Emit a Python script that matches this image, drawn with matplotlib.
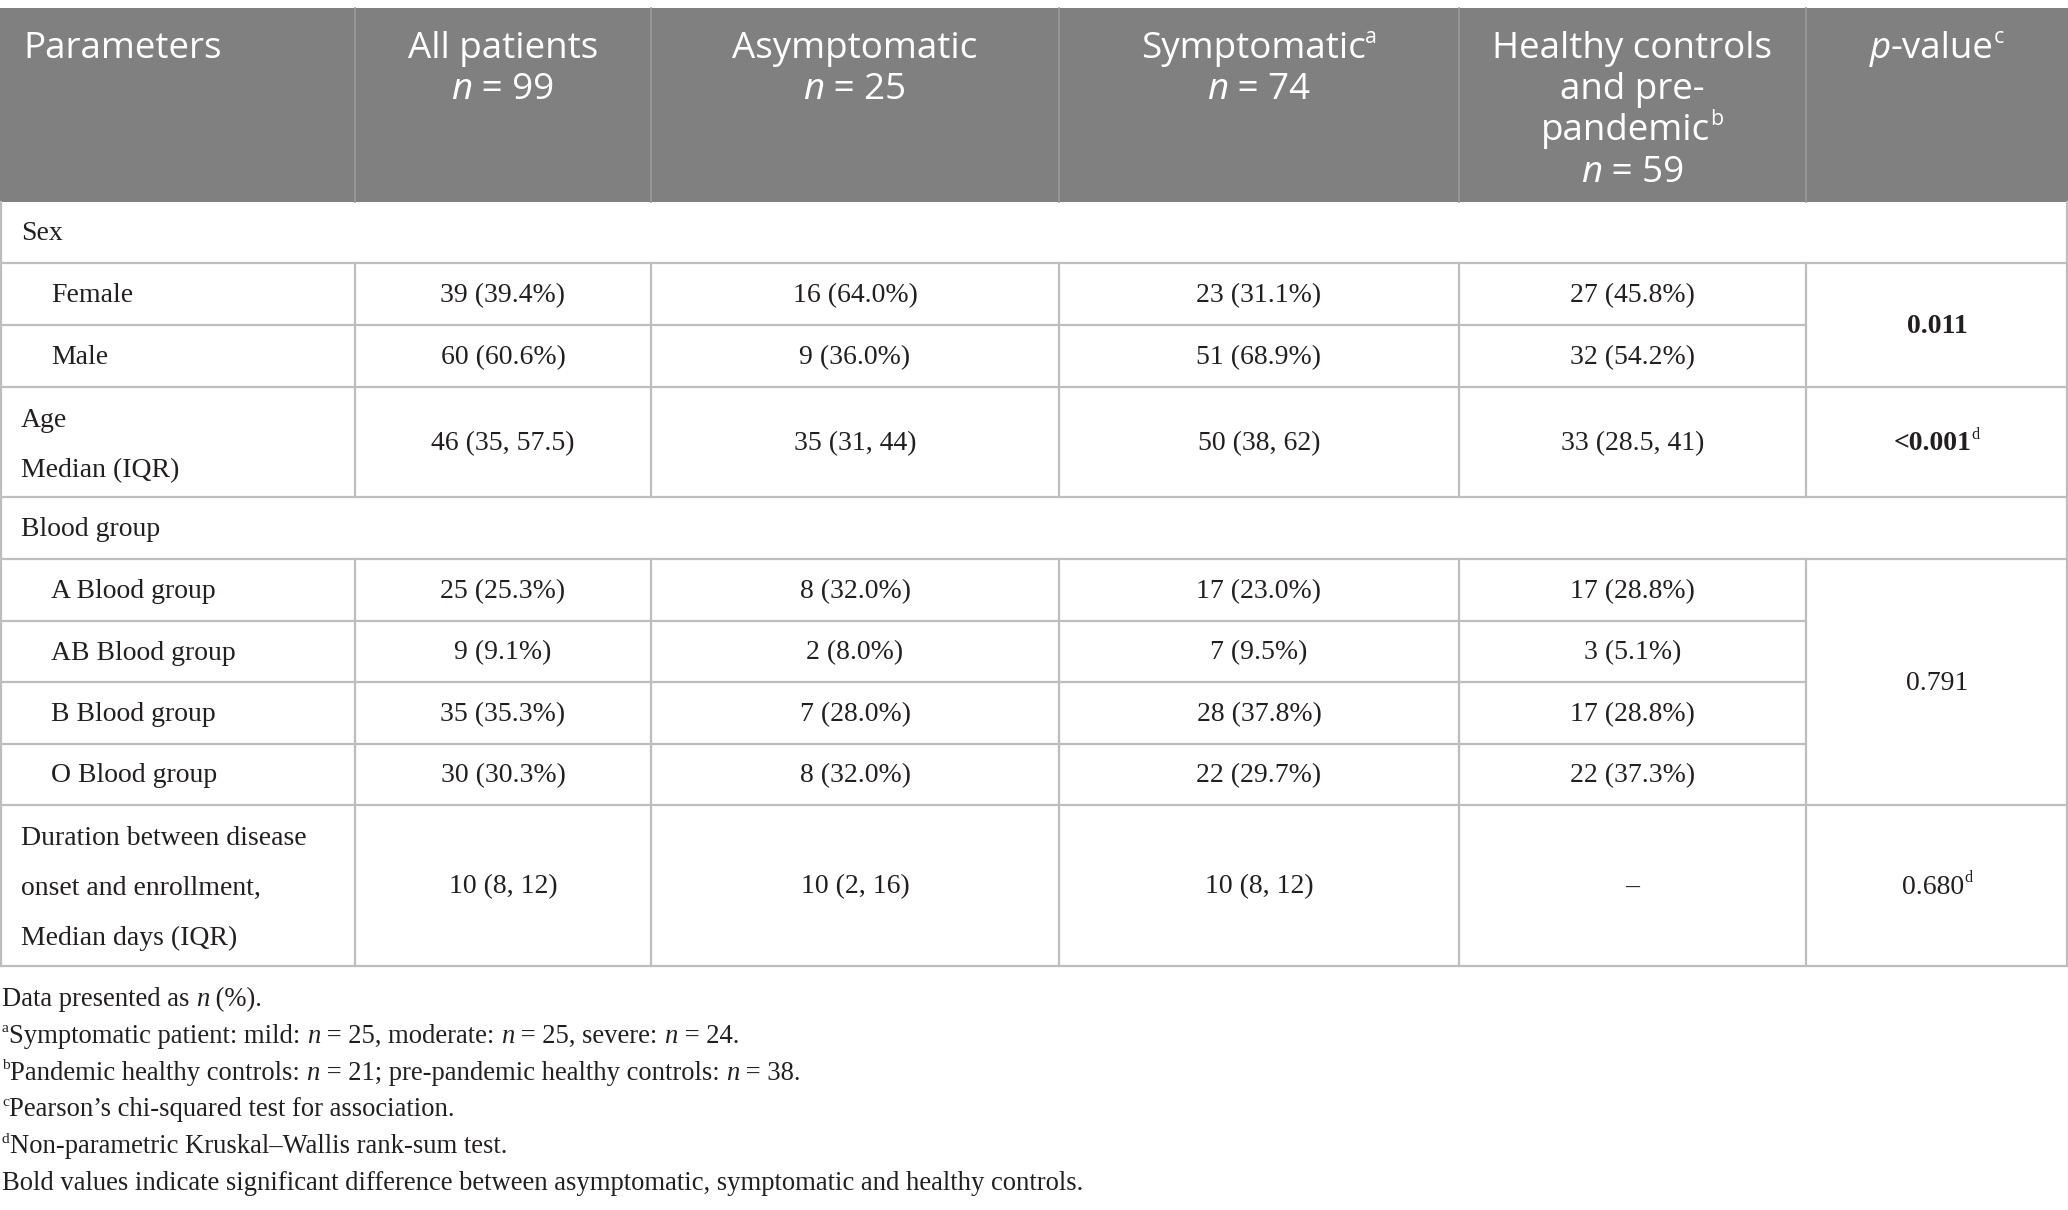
import matplotlib
matplotlib.use("Agg")
import matplotlib.pyplot as plt
from matplotlib.patches import Rectangle

# ---- table content ----
groups = ["All patients", "Asymptomatic", "Symptomatic", "Healthy controls and pre-pandemic"]
group_n = [99, 25, 74, 59]

sex_labels = ["Female", "Male"]
sex_counts = [[39, 16, 23, 27], [60, 9, 51, 32]]
sex_pct = [[39.4, 64.0, 31.1, 45.8], [60.6, 36.0, 68.9, 54.2]]
sex_p = "0.011"

age_median = [46, 35, 50, 33]
age_iqr = [(35, 57.5), (31, 44), (38, 62), (28.5, 41)]
age_p = "<0.001"

blood_labels = ["A Blood group", "AB Blood group", "B Blood group", "O Blood group"]
blood_counts = [[25, 8, 17, 17], [9, 2, 7, 3], [35, 7, 28, 17], [30, 8, 22, 22]]
blood_pct = [[25.3, 32.0, 23.0, 28.8], [9.1, 8.0, 9.5, 5.1],
             [35.3, 28.0, 37.8, 28.8], [30.3, 32.0, 29.7, 37.3]]
blood_p = "0.791"

dur_median = [10, 10, 10, None]
dur_iqr = [(8, 12), (2, 16), (8, 12), None]
dur_p = "0.680"

# ---- layout (pixels) ----
W, H = 2068, 1210
col_edges = [0, 355, 651, 1059, 1459, 1806, 2068]
head_top, head_bot = 8, 202
row_edges = [202, 263, 325, 387, 497, 559, 621, 682, 744, 805, 966]

HEAD_FONT = "Open Sans"
BODY_FONT = "Liberation Serif"
HEAD_SIZE = 26.5
BODY_SIZE = 20
FOOT_SIZE = 19.2
TXT = "#231f20"
GRID = "#bdbdbd"
HEAD_BG = "#808080"

fig = plt.figure(figsize=(W / 100, H / 100), dpi=100)
ax = fig.add_axes([0, 0, 1, 1])
ax.set_xlim(0, W)
ax.set_ylim(H, 0)
ax.axis("off")
renderer = fig.canvas.get_renderer()


def fmt(v):
    return ("%g" % v)


def draw_runs(x, y, runs, ha="left", family=BODY_FONT, size=BODY_SIZE, color=TXT):
    # runs: list of (text, kind) kind in '', 'i', 'b', 'sup'
    arts = []
    for txt, kind in runs:
        kw = dict(family=family, color=color, va="baseline", ha="left")
        if kind == "sup":
            kw["fontsize"] = size * 0.58
        else:
            kw["fontsize"] = size
        if kind == "i":
            kw["style"] = "italic"
        if kind == "b":
            kw["weight"] = "bold"
        t = ax.text(0, y, txt, **kw)
        arts.append((t, kind))
    widths = [t.get_window_extent(renderer).width for t, _ in arts]
    total = sum(widths)
    if ha == "center":
        x0 = x - total / 2
    else:
        x0 = x
    for (t, kind), w in zip(arts, widths):
        dy = -size * 0.55 if kind == "sup" else 0
        t.set_position((x0, y + dy))
        x0 += w


# header background
ax.add_patch(Rectangle((0, head_top), W, head_bot - head_top, color=HEAD_BG, lw=0))
for xe in col_edges[1:-1]:
    ax.plot([xe, xe], [head_top, head_bot], color="#9a9a9a", lw=1.2)

col_cx = [(col_edges[i] + col_edges[i + 1]) / 2 for i in range(6)]
head_base = [58, 99, 140, 182]
draw_runs(23, head_base[0], [("Parameters", "")], family=HEAD_FONT, size=HEAD_SIZE, color="white")
head_lines = [
    [[("All patients", "")]],
    [[("Asymptomatic", "")]],
    [[("Symptomatic", ""), ("a", "sup")]],
    [[("Healthy controls", "")], [("and pre-", "")], [("pandemic", ""), ("b", "sup")]],
]
for i, lines in enumerate(head_lines):
    for j, runs in enumerate(lines):
        draw_runs(col_cx[i + 1], head_base[j], runs, ha="center",
                  family=HEAD_FONT, size=HEAD_SIZE, color="white")
    draw_runs(col_cx[i + 1], head_base[len(lines)], [("n", "i"), (" = %d" % group_n[i], "")],
              ha="center", family=HEAD_FONT, size=HEAD_SIZE, color="white")
draw_runs(col_cx[5], head_base[0], [("p", "i"), ("-value", ""), ("c", "sup")], ha="center",
          family=HEAD_FONT, size=HEAD_SIZE, color="white")

# grid lines
lw = 1.6
full = [263, 387, 497, 559, 805, 966]
part = [325, 621, 682, 744]
for y in full:
    ax.plot([0, W], [y, y], color=GRID, lw=lw)
for y in part:
    ax.plot([0, col_edges[5]], [y, y], color=GRID, lw=lw)
ax.plot([1, 1], [head_bot, 966], color=GRID, lw=lw)
ax.plot([W - 1, W - 1], [head_bot, 966], color=GRID, lw=lw)
for xe in col_edges[1:-1]:
    ax.plot([xe, xe], [263, 497], color=GRID, lw=lw)
    ax.plot([xe, xe], [559, 966], color=GRID, lw=lw)


def base(c):
    return c + 8


def mid(a, b):
    return (row_edges[a] + row_edges[b]) / 2


# Sex
draw_runs(21, base(mid(0, 1)), [("Sex", "")])
for r in range(2):
    yb = base(mid(1 + r, 2 + r))
    draw_runs(51, yb, [(sex_labels[r], "")])
    for c in range(4):
        draw_runs(col_cx[c + 1], yb, [("%d (%.1f%%)" % (sex_counts[r][c], sex_pct[r][c]), "")], ha="center")
draw_runs(col_cx[5], base(mid(1, 3)), [(sex_p, "b")], ha="center")

# Age
draw_runs(21, 427, [("Age", "")])
draw_runs(21, 477, [("Median (IQR)", "")])
yb = base(mid(3, 4))
for c in range(4):
    lo, hi = age_iqr[c]
    draw_runs(col_cx[c + 1], yb, [("%d (%s, %s)" % (age_median[c], fmt(lo), fmt(hi)), "")], ha="center")
draw_runs(col_cx[5], yb, [(age_p, "b"), ("d", "sup")], ha="center")

# Blood group
draw_runs(21, base(mid(4, 5)), [("Blood group", "")])
for r in range(4):
    yb = base(mid(5 + r, 6 + r))
    draw_runs(51, yb, [(blood_labels[r], "")])
    for c in range(4):
        draw_runs(col_cx[c + 1], yb, [("%d (%.1f%%)" % (blood_counts[r][c], blood_pct[r][c]), "")], ha="center")
draw_runs(col_cx[5], base(mid(5, 9)), [(blood_p, "")], ha="center")

# Duration
for j, s in enumerate(["Duration between disease", "onset and enrollment,", "Median days (IQR)"]):
    draw_runs(21, 845 + 50 * j, [(s, "")])
yb = base(mid(9, 10))
for c in range(4):
    if dur_median[c] is None:
        txt = "\u2013"
    else:
        txt = "%d (%d, %d)" % (dur_median[c], dur_iqr[c][0], dur_iqr[c][1])
    draw_runs(col_cx[c + 1], yb, [(txt, "")], ha="center")
draw_runs(col_cx[5], yb, [(dur_p, ""), ("d", "sup")], ha="center")

# footnotes
notes = [
    [("Data presented as ", ""), ("n", "i"), (" (%).", "")],
    [("a", "sup"), ("Symptomatic patient: mild: ", ""), ("n", "i"), (" = 25, moderate: ", ""),
     ("n", "i"), (" = 25, severe: ", ""), ("n", "i"), (" = 24.", "")],
    [("b", "sup"), ("Pandemic healthy controls: ", ""), ("n", "i"), (" = 21; pre-pandemic healthy controls: ", ""),
     ("n", "i"), (" = 38.", "")],
    [("c", "sup"), ("Pearson\u2019s chi-squared test for association.", "")],
    [("d", "sup"), ("Non-parametric Kruskal\u2013Wallis rank-sum test.", "")],
    [("Bold values indicate significant difference between asymptomatic, symptomatic and healthy controls.", "")],
]
for k, runs in enumerate(notes):
    draw_runs(2, 1006 + 36.8 * k, runs, size=FOOT_SIZE)

fig.savefig("out.png", dpi=100, facecolor="white")
